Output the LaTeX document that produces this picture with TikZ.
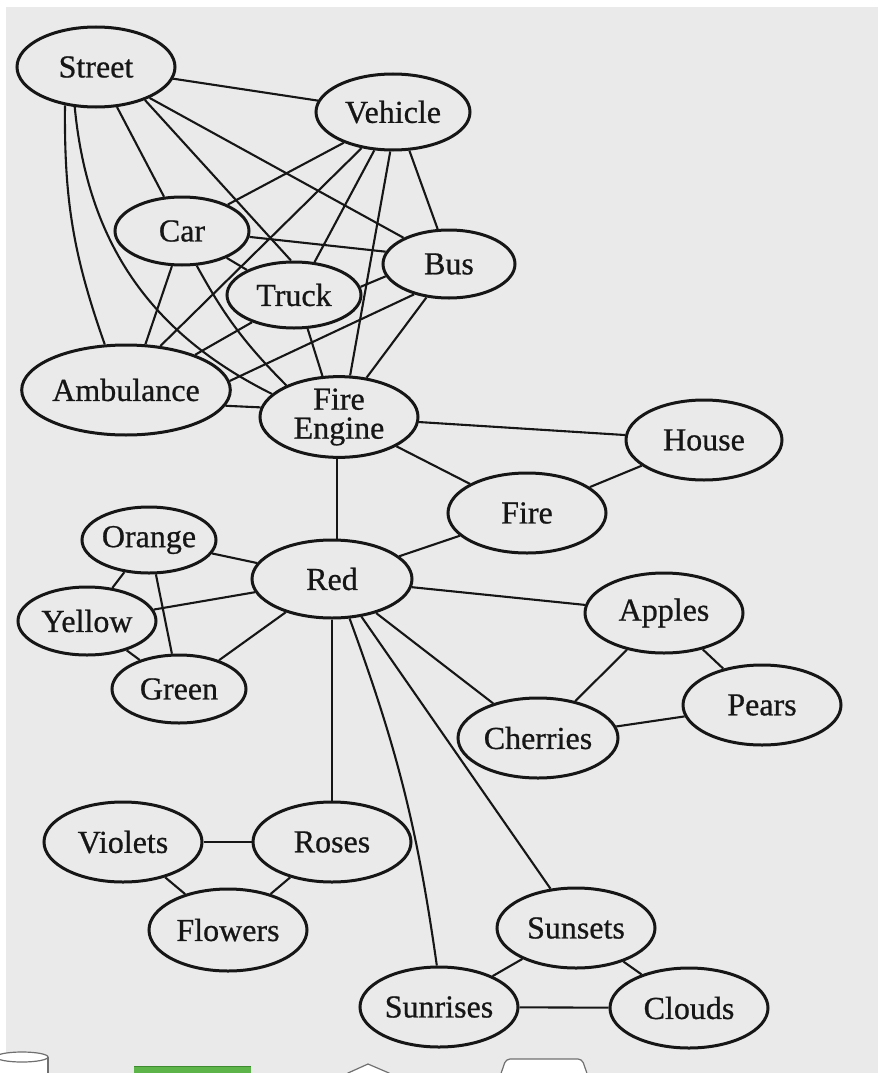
\documentclass[tikz,border=0pt]{standalone}
\usepackage{fontspec}
\setmainfont{Liberation Serif}
\usetikzlibrary{shapes.geometric}
\definecolor{bgc}{HTML}{EAEAEA}
\definecolor{ink}{HTML}{161616}
\definecolor{grn}{HTML}{5DB54A}
\definecolor{dkgrn}{HTML}{3E8A30}
\definecolor{shp}{HTML}{707070}
\begin{document}
\begin{tikzpicture}[x=1pt,y=-1pt,
  nd/.style={ellipse,draw=ink,line width=3pt,inner sep=0pt,
    font=\fontsize{32}{29}\selectfont\addfontfeature{FakeBold=0.7},text=ink,align=center},
  sz/.style 2 args={minimum width=#1,minimum height=#2},
  ed/.style={draw=ink,line width=2.1pt},
  partshape/.style={draw=shp,line width=1.2pt,fill=white}]
\fill[white] (0,0) rectangle (878,1073);
\useasboundingbox (0,0) rectangle (878,1073);
\fill[bgc] (6,7) rectangle (878,1073);

% nodes
\node[nd,sz={158pt}{80pt}] (street) at (96,67) {Street};
\node[nd,sz={154pt}{76pt}] (vehicle) at (393,112) {Vehicle};
\node[nd,sz={134pt}{68pt}] (car) at (182,231) {Car};
\node[nd,sz={132pt}{68pt}] (bus) at (449,264) {Bus};
\node[nd,sz={134pt}{66pt}] (truck) at (294,295) {Truck};
\node[nd,sz={192pt}{90pt}] (amb) at (126,390) {Ambulance};
\node[nd,sz={158pt}{80pt}] (fe) at (339,417) {Fire\\Engine};
\node[nd,sz={156pt}{80pt}] (house) at (704,440) {House};
\node[nd,sz={158pt}{80pt}] (fire) at (527,513) {Fire};
\node[nd,sz={134pt}{66pt}] (orange) at (149,540) {Orange};
\node[nd,sz={160pt}{78pt}] (red) at (332,579) {Red};
\node[nd,sz={138pt}{68pt}] (yellow) at (87,621) {Yellow};
\node[nd,sz={134pt}{68pt}] (green) at (179,689) {Green};
\node[nd,sz={158pt}{80pt}] (apples) at (664,613) {Apples};
\node[nd,sz={158pt}{80pt}] (pears) at (762,705) {Pears};
\node[nd,sz={160pt}{80pt}] (cherries) at (538,738) {Cherries};
\node[nd,sz={158pt}{80pt}] (violets) at (123,842) {Violets};
\node[nd,sz={158pt}{80pt}] (roses) at (332,842) {Roses};
\node[nd,sz={158pt}{82pt}] (flowers) at (228,930) {Flowers};
\node[nd,sz={158pt}{80pt}] (sunsets) at (576,928) {Sunsets};
\node[nd,sz={158pt}{80pt}] (sunrises) at (439,1007) {Sunrises};
\node[nd,sz={158pt}{80pt}] (clouds) at (689,1008) {Clouds};

% vehicle cluster
\draw[ed] (street) -- (vehicle);
\draw[ed] (street) -- (car);
\draw[ed] (street.-34) -- (truck.95);
\draw[ed] (street.-30) -- (bus.150);
\draw[ed] (street.-129) to[bend right=10] (amb.115);
\draw[ed] (street.-118) to[bend right=29] (fe.161);
\draw[ed] (vehicle.-148) -- (car.30);
\draw[ed] (vehicle.-131) -- (amb.52);
\draw[ed] (vehicle.-116) -- (truck.58);
\draw[ed] (vehicle.-94) -- (fe.75);
\draw[ed] (vehicle.-67) -- (bus.108);
\draw[ed] (car.-5) -- (bus.169);
\draw[ed] (car.-31) -- (truck.152);
\draw[ed] (car.-106) -- (amb.67);
\draw[ed] (car.-67) to[bend right=8] (fe.149);
\draw[ed] (truck.7) -- (bus.-169);
\draw[ed] (truck.-68) -- (fe.112);
\draw[ed] (truck.-147) -- (amb.27);
\draw[ed] (bus.-139) -- (amb.5);
\draw[ed] (amb.-9) -- (fe.173);
\draw[ed] (bus.-124) -- (fe.55);

% fire
\draw[ed] (fe) -- (house);
\draw[ed] (fe) -- (fire);
\draw[ed] (fire) -- (house);
\draw[ed] (fire) -- (red);
\draw[ed] (fe.-93) -- (fe.-93 |- red.north);

% colours
\draw[ed] (red) -- (orange);
\draw[ed] (red) -- (yellow);
\draw[ed] (red) -- (green);
\draw[ed] (orange) -- (yellow);
\draw[ed] (orange) -- (green);
\draw[ed] (yellow) -- (green);

% fruit
\draw[ed] (red) -- (apples);
\draw[ed] (red) -- (cherries);
\draw[ed] (apples) -- (pears);
\draw[ed] (apples) -- (cherries);
\draw[ed] (cherries) -- (pears);

% flowers, sky
\draw[ed] (red) -- (roses);
\draw[ed] (red.-66) to[bend left=6] (sunrises.93);
\draw[ed] (red.-52) -- (sunsets.123);
\draw[ed] (violets) -- (roses);
\draw[ed] (violets) -- (flowers);
\draw[ed] (roses) -- (flowers);
\draw[ed] (sunsets) -- (sunrises);
\draw[ed] (sunsets) -- (clouds);
\draw[ed] (sunrises) -- (clouds);

% partial shapes at the bottom edge
\fill[white] (-4,1057) rectangle (48,1085);
\draw[shp,line width=1.2pt] (48,1057) -- (48,1085);
\draw[partshape] (22,1057) ellipse [x radius=26,y radius=5];
\fill[grn] (134,1066) rectangle (251,1085);
\draw[dkgrn,line width=1.2pt] (134,1066.6) -- (251,1066.6);
\draw[partshape] (348,1085) -- (348,1073) -- (368,1064) -- (389,1073) -- (389,1085);
\draw[partshape,rounded corners=4pt] (497,1085) -- (506,1059) -- (582,1059) -- (591,1085);
\end{tikzpicture}
\end{document}
